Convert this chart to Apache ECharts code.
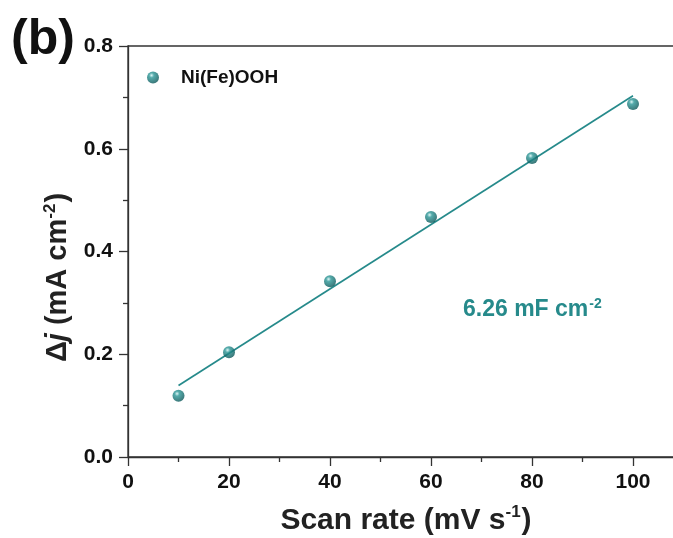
<!DOCTYPE html>
<html>
<head>
<meta charset="utf-8">
<script src="https://cdn.jsdelivr.net/npm/echarts@6/dist/echarts.min.js"></script>
<style>
html,body{margin:0;padding:0;background:#fff;}
#c{width:673px;height:538px;}
</style>
</head>
<body>
<div id="c"></div>
<script>
// Data
var scanRates = [10, 20, 40, 60, 80, 100];
var deltaJ = [0.119, 0.204, 0.342, 0.467, 0.582, 0.687];
var fitX = [10, 100];
var fitY = [0.139, 0.703];
var seriesName = 'Ni(Fe)OOH';
var annotationValue = '6.26';

var teal = '#268a8b';
var axisColor = '#333';
var fontFamily = 'Liberation Sans, Arial, sans-serif';

var scatterData = scanRates.map(function (x, i) { return [x, deltaJ[i]]; });
var fitData = fitX.map(function (x, i) { return [x, fitY[i]]; });

var sphere = new echarts.graphic.RadialGradient(0.38, 0.32, 0.72, [
  { offset: 0, color: '#d6f4f4' },
  { offset: 0.28, color: '#2a9696' },
  { offset: 1, color: '#085254' }
]);

var chart = echarts.init(document.getElementById('c'), null, { renderer: 'canvas' });
chart.setOption({
  backgroundColor: '#fff',
  animation: false,
  grid: {
    left: 128, top: 46, width: 606, bottom: 81,
    containLabel: false, outerBoundsMode: 'none',
    show: true, borderColor: axisColor, borderWidth: 1.3, backgroundColor: 'transparent'
  },
  legend: {
    data: [seriesName],
    left: 142, top: 63,
    icon: 'circle', itemWidth: 12, itemHeight: 12,
    textStyle: { fontFamily: fontFamily, fontSize: 19, fontWeight: 'bold', color: '#111', padding: [0, 0, 0, 17] }
  },
  xAxis: {
    type: 'value', min: 0, max: 120, interval: 20,
    name: 'Scan rate (mV s{s|-1})',
    nameLocation: 'middle', nameGap: 47,
    nameTextStyle: {
      fontFamily: fontFamily, fontSize: 30, fontWeight: 'bold', color: '#222',
      padding: [0, 50, 0, 0],
      rich: { s: { fontFamily: fontFamily, fontSize: 17, fontWeight: 'bold', color: '#222', verticalAlign: 'top', padding: [0, 1, 16, 0] } }
    },
    axisLine: { show: true, onZero: false, lineStyle: { color: axisColor, width: 1.3 } },
    axisTick: { show: true, length: 9, lineStyle: { color: axisColor, width: 1.3 } },
    minorTick: { show: true, splitNumber: 2, length: 5, lineStyle: { color: axisColor, width: 1.3 } },
    splitLine: { show: false },
    axisLabel: { fontFamily: fontFamily, fontSize: 21, fontWeight: 'bold', color: '#111', margin: 15, showMaxLabel: false }
  },
  yAxis: {
    type: 'value', min: 0, max: 0.8, interval: 0.2,
    name: '{a|Δ}{i|j}{a| (mA cm}{s|-2}{a|)}',
    nameLocation: 'middle', nameGap: 52, nameRotate: 90,
    nameTextStyle: {
      padding: [0, 52, 0, 0],
      rich: {
        a: { fontFamily: fontFamily, fontSize: 29, fontWeight: 'bold', color: '#222' },
        i: { fontFamily: fontFamily, fontSize: 29, fontWeight: 'bold', fontStyle: 'italic', color: '#222' },
        s: { fontFamily: fontFamily, fontSize: 17, fontWeight: 'bold', color: '#222', verticalAlign: 'top', padding: [0, 1, 16, 0] }
      }
    },
    axisLine: { show: true, onZero: false, lineStyle: { color: axisColor, width: 1.3 } },
    axisTick: { show: true, length: 9, lineStyle: { color: axisColor, width: 1.3 } },
    minorTick: { show: true, splitNumber: 2, length: 5, lineStyle: { color: axisColor, width: 1.3 } },
    splitLine: { show: false },
    axisLabel: {
      fontFamily: fontFamily, fontSize: 21, fontWeight: 'bold', color: '#111', margin: 15,
      formatter: function (v) { return v.toFixed(1); }
    }
  },
  graphic: [
    { type: 'text', left: 11, top: 15, style: { text: '(b)', font: 'bold 50px ' + fontFamily, fill: '#111' } },
    {
      type: 'text', left: 463, top: 297,
      style: {
        text: '{a|' + annotationValue + ' mF cm}{s|-2}',
        rich: {
          a: { fontFamily: fontFamily, fontSize: 23, fontWeight: 'bold', fill: teal, color: teal },
          s: { fontFamily: fontFamily, fontSize: 14, fontWeight: 'bold', fill: teal, color: teal, verticalAlign: 'top', padding: [0, 0, 11, 1] }
        }
      }
    }
  ],
  series: [
    {
      name: 'fit', type: 'line', data: fitData, showSymbol: false, symbol: 'none',
      lineStyle: { color: teal, width: 1.7 }, z: 2, silent: true
    },
    {
      name: seriesName, type: 'scatter', data: scatterData, symbol: 'circle', symbolSize: 12,
      itemStyle: { color: sphere }, z: 3
    }
  ]
});
</script>
</body>
</html>
